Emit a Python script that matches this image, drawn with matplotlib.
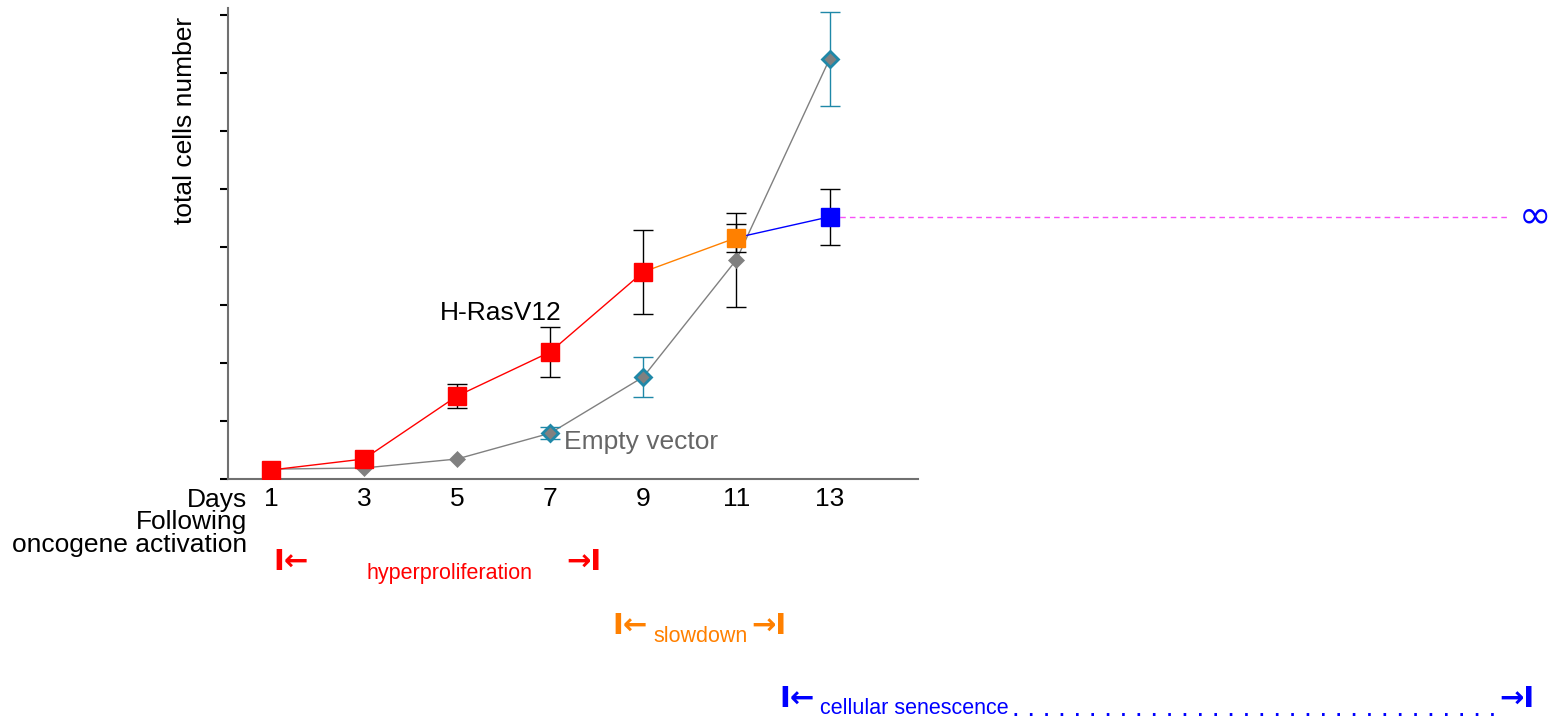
import numpy as np
import matplotlib.pyplot as plt

plt.rcParams['font.family'] = ['Liberation Sans', 'DejaVu Sans']

days = [1, 3, 5, 7, 9, 11, 13]
ras = [0.155, 0.345, 1.43, 2.19, 3.57, 4.16, 4.52]
ras_err = [0, 0, 0.21, 0.43, 0.73, 0.24, 0.48]
ras_colors = ['#ff0000', '#ff0000', '#ff0000', '#ff0000', '#ff0000', '#ff8000', '#0000ff']
empty = [0.17, 0.19, 0.345, 0.79, 1.76, 3.78, 7.24]
empty_err = [0, 0, 0, 0.1, 0.34, 0.81, 0.81]
empty_teal = [False, False, False, True, True, False, True]
tick_labels = ['1', '3', '5', '7', '9', '11', '13']

W, H = 1558, 720
fig = plt.figure(figsize=(W / 100, H / 100), dpi=100)
ax = fig.add_axes([228 / W, 1 - 479 / H, (918 - 228) / W, (479 - 8) / H])

def fx(x):
    return x / W

def fy(y):
    return 1 - y / H

teal = '#1f88a8'

# Empty vector (gray diamonds)
ax.plot(days, empty, color='#808080', lw=1, zorder=2)
for d, v, e, t in zip(days, empty, empty_err, empty_teal):
    ec = teal if t else 'black'
    if e > 0:
        ax.errorbar(d, v, yerr=e, color=ec, lw=1, capsize=7, capthick=1, zorder=3)
    ax.plot(d, v, marker='D', ms=8.5, color='#808080',
            mec=teal if t else '#808080', mew=2 if t else 0.5, zorder=4)

# H-RasV12 (squares, segment colours)
for i in range(len(days) - 1):
    ax.plot(days[i:i + 2], ras[i:i + 2], color=ras_colors[i + 1], lw=1, zorder=5)
for d, v, e, c in zip(days, ras, ras_err, ras_colors):
    if e > 0:
        ax.errorbar(d, v, yerr=e, color='black', lw=1, capsize=7, capthick=1, zorder=6)
    ax.plot(d, v, marker='s', ms=12.5, color=c, mec=c, zorder=7)

# dashed line to infinity
ax.plot([days[-1], 27.6], [ras[-1], ras[-1]], ls=(0, (4, 3)), color='#f850f8',
        lw=1, clip_on=False, zorder=1)
ax.text(28.15, ras[-1], '\u221e', color='#0000ff', fontsize=28, ha='center',
        va='center', family=['DejaVu Sans'], clip_on=False)

ax.set_xlim(0.08, 14.9)
ax.set_ylim(0, 8.12)
ax.set_yticks(np.arange(0, 9))
ax.set_yticklabels([])
ax.set_xticks(days)
ax.set_xticklabels(tick_labels, fontsize=19)
ax.tick_params(axis='x', length=0, pad=6)
ax.tick_params(axis='y', length=6, width=1.5, direction='out', color='black')
for s in ['top', 'right']:
    ax.spines[s].set_visible(False)
for s in ['left', 'bottom']:
    ax.spines[s].set_color('#707070')
    ax.spines[s].set_linewidth(1.5)

ax.text(4.63, 2.86, 'H-RasV12', fontsize=19, ha='left', va='center')
ax.text(7.3, 0.64, 'Empty vector', fontsize=19, color='#666666', ha='left', va='center')

fig.text(fx(185), fy(120), 'total cells number', rotation=90, fontsize=19,
         ha='center', va='center')
fig.text(fx(247), fy(500), 'Days', fontsize=19, ha='right', va='center')
fig.text(fx(247), fy(522), 'Following', fontsize=19, ha='right', va='center')
fig.text(fx(247), fy(545), 'oncogene activation', fontsize=19, ha='right', va='center')

# phase annotations
arrow_kw = dict(fontsize=21, fontweight='bold', va='center', family=['DejaVu Sans'])
fig.text(fx(273), fy(562), 'I\u2190', color='#ff0000', ha='left', **arrow_kw)
fig.text(fx(367), fy(573), 'hyperproliferation', color='#ff0000', fontsize=15.5, ha='left', va='center')
fig.text(fx(602), fy(562), '\u2192I', color='#ff0000', ha='right', **arrow_kw)

fig.text(fx(612), fy(626), 'I\u2190', color='#ff8000', ha='left', **arrow_kw)
fig.text(fx(653), fy(636), 'slowdown', color='#ff8000', fontsize=15.5, ha='left', va='center')
fig.text(fx(787), fy(626), '\u2192I', color='#ff8000', ha='right', **arrow_kw)

fig.text(fx(779), fy(699), 'I\u2190', color='#0000ff', ha='left', **arrow_kw)
fig.text(fx(820), fy(709), 'cellular senescence', color='#0000ff', fontsize=15.5, ha='left', va='center')
fig.text(fx(1012), fy(709), '. ' * 32, color='#0000ff', fontsize=20, ha='left', va='center')
fig.text(fx(1535), fy(699), '\u2192I', color='#0000ff', ha='right', **arrow_kw)

fig.savefig('out.png', dpi=100)
